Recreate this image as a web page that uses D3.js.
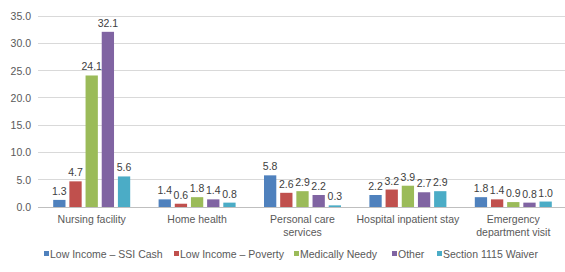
<!DOCTYPE html>
<html lang="en">
<head>
  <meta charset="UTF-8">
  <title>Service use by eligibility group</title>
  <script src="https://d3js.org/d3.v7.min.js"></script>
  <style>
    body { margin: 0; background: #fff; }
    text { font-family: "Liberation Sans", Arial, sans-serif; }
  </style>
</head>
<body>
  <svg width="565" height="272"></svg>
  <script>
    const categories = [["Nursing facility"], ["Home health"], ["Personal care", "services"], ["Hospital inpatient stay"], ["Emergency", "department visit"]];
    const seriesNames = ["Low Income \u2013 SSI Cash", "Low Income \u2013 Poverty", "Medically Needy", "Other", "Section 1115 Waiver"];
    const ssiCash = [1.3, 1.4, 5.8, 2.2, 1.8];
    const poverty = [4.7, 0.6, 2.6, 3.2, 1.4];
    const medNeedy = [24.1, 1.8, 2.9, 3.9, 0.9];
    const other = [32.1, 1.4, 2.2, 2.7, 0.8];
    const waiver = [5.6, 0.8, 0.3, 2.9, 1.0];
    const yTicks = [0, 5, 10, 15, 20, 25, 30, 35];
    const colors = ["#4F81BD", "#C0504D", "#9BBB59", "#8064A2", "#4BACC6"];

    const series = [ssiCash, poverty, medNeedy, other, waiver];
    const svg = d3.select("svg");
    const mLeft = 39, mRight = 566, mTop = 16, mBottom = 207;
    const groupW = 77;

    const x0 = d3.scaleBand().domain(d3.range(categories.length)).range([mLeft, mRight]);
    const x1 = d3.scaleBand().domain(d3.range(series.length)).range([0, groupW]).paddingInner(0.24);
    const groupOff = (x0.bandwidth() - groupW) / 2;
    const y = d3.scaleLinear().domain([0, 35]).range([mBottom, mTop]);

    // gridlines and y labels
    svg.append("g").selectAll("line").data(yTicks).enter().append("line")
      .attr("x1", 38).attr("x2", mRight)
      .attr("y1", d => y(d)).attr("y2", d => y(d))
      .attr("stroke", d => d === 0 ? "#BFBFBF" : "#D9D9D9").attr("stroke-width", 1)
      .attr("shape-rendering", "crispEdges");
    svg.append("g").selectAll("text").data(yTicks).enter().append("text")
      .attr("x", 31).attr("y", d => y(d) + 4)
      .attr("text-anchor", "end").attr("font-size", 10.5).attr("fill", "#595959")
      .text(d => d.toFixed(1));

    // bars
    series.forEach((vals, s) => {
      const g = svg.append("g");
      g.selectAll("rect").data(vals).enter().append("rect")
        .attr("x", (d, i) => x0(i) + groupOff + x1(s))
        .attr("width", x1.bandwidth())
        .attr("y", d => y(d))
        .attr("height", d => y(0) - y(d))
        .attr("fill", colors[s]);
      g.selectAll("text").data(vals).enter().append("text")
        .attr("x", (d, i) => x0(i) + groupOff + x1(s) + x1.bandwidth() / 2)
        .attr("y", d => y(d) - 5)
        .attr("text-anchor", "middle").attr("font-size", 10.5).attr("fill", "#404040")
        .text(d => d.toFixed(1));
    });

    // category labels
    const cat = svg.append("g").selectAll("text").data(categories).enter().append("text")
      .attr("x", (d, i) => x0(i) + x0.bandwidth() / 2)
      .attr("y", 223)
      .attr("text-anchor", "middle").attr("font-size", 10.5).attr("fill", "#595959");
    cat.selectAll("tspan").data(d => d).enter().append("tspan")
      .attr("x", function() { return d3.select(this.parentNode).attr("x"); })
      .attr("dy", (d, i) => i === 0 ? 0 : 13)
      .text(d => d);

    // legend
    const legendX = [44, 174, 294, 392, 437];
    const lg = svg.append("g").selectAll("g").data(seriesNames).enter().append("g")
      .attr("transform", (d, i) => `translate(${legendX[i]},258)`);
    lg.append("rect").attr("x", 0).attr("y", -7).attr("width", 5).attr("height", 5)
      .attr("fill", (d, i) => colors[i]);
    lg.append("text").attr("x", 6).attr("y", 0).attr("font-size", 10.5).attr("fill", "#595959")
      .text(d => d);
  </script>
</body>
</html>
